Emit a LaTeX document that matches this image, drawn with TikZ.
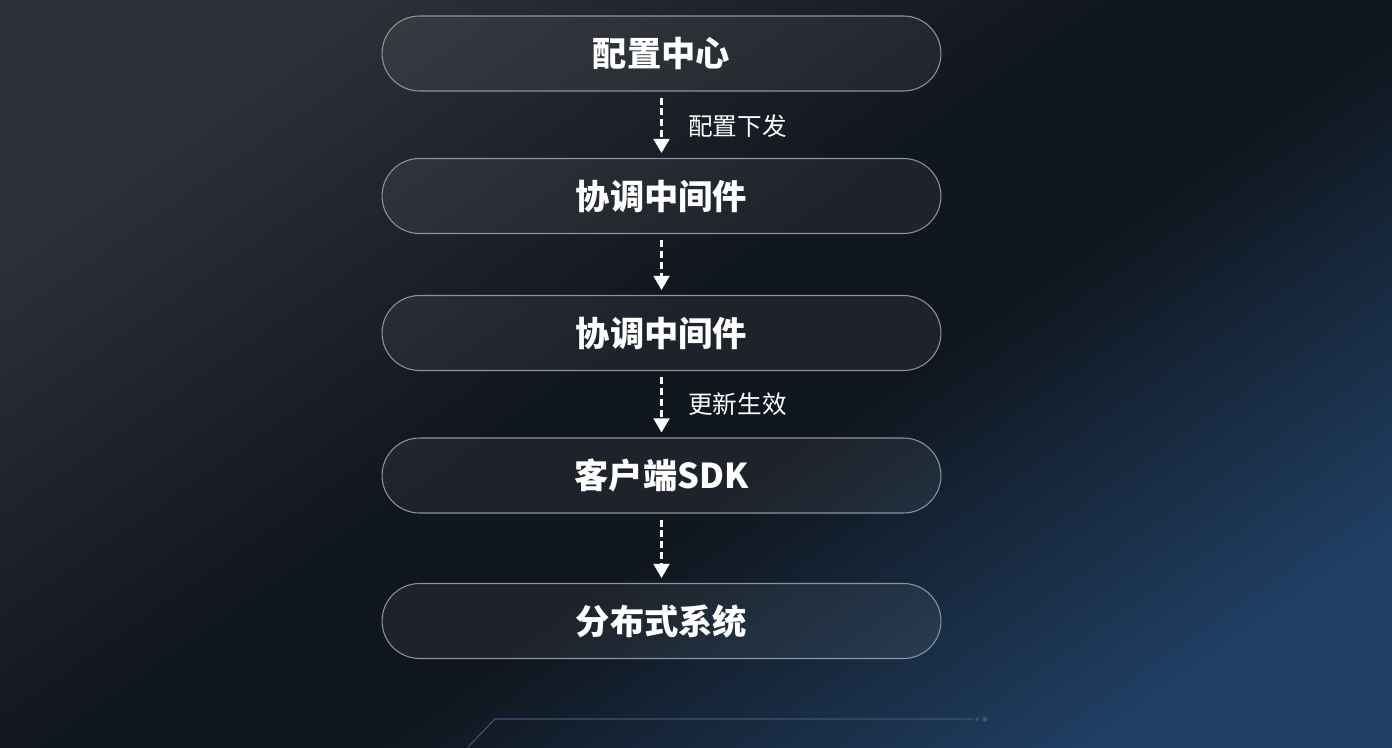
\documentclass[tikz,border=0pt]{standalone}
\usepackage{fontspec}
\newfontfamily\cjk{Noto Sans CJK SC}
\usetikzlibrary{arrows.meta}
\definecolor{bgtop}{HTML}{30343A}
\definecolor{bgmid}{HTML}{10161E}
\definecolor{bgbot}{HTML}{1F3E62}
\definecolor{rim}{HTML}{8E949C}
\definecolor{deco}{HTML}{3B5572}
\pgfdeclarehorizontalshading{backdrop}{100bp}{color(0bp)=(bgtop);
  color(25bp)=(bgtop!90!bgmid); color(47bp)=(bgmid); color(56bp)=(bgmid);
  color(76bp)=(bgbot); color(100bp)=(bgbot)}

\begin{document}
\begin{tikzpicture}[x=0.02cm,y=-0.02cm]
    \tikzset{%
      stage/.style={draw=rim, line width=0.6pt, fill=white, fill opacity=0.06,
        text opacity=1, text=white, rounded corners=0.75cm, minimum
        width=11.18cm, minimum height=1.5cm,
        font=\cjk\bfseries\fontsize{19.5}{19.5}\selectfont},
      flow/.style={white, line width=1.3pt, dash pattern=on 4pt off 2.2pt,
        shorten <=0.12cm, shorten >=0.1cm,
        -{Triangle[width=9pt,length=8pt]}},
      note/.style={anchor=west, text=white, inner sep=0pt,
        font=\cjk\fontsize{14}{14}\selectfont},
    }
    % background
    \useasboundingbox (0,0) rectangle (1392,747);
    \fill[shading=backdrop, shading angle=-55] (0,0) rectangle (1392,747);

    \node[stage] (center) at (661.5,53.5) {配置中心};
    \node[stage] (midA) at (661.5,196) {协调中间件};
    \draw [flow] (center) -- (midA);
    \node[note] (push) at (688,126) {配置下发};

    \node[stage] (midB) at (661.5,333) {协调中间件};
    \draw [flow] (midA) -- (midB);

    \node[stage] (sdk) at (661.5,475.5) {客户端SDK};
    \draw [flow] (midB) -- (sdk);
    \node[note] (apply) at (688,404) {更新生效};

    \node[stage] (dist) at (661.5,621) {分布式系统};
    \draw [flow] (sdk) -- (dist);

    % bottom trim
    \coordinate (T0) at (468,747);
    \coordinate (T1) at (495,719);
    \coordinate (T2) at (973,719);
    \draw [deco, line width=0.6pt] (T0) -- (T1) -- (T2);
    \node[circle, fill=deco, inner sep=0pt, minimum width=2pt] (dotA) at (977,719) {};
    \node[circle, fill=deco, inner sep=0pt, minimum width=3pt] (dotB) at (985,719) {};
  \end{tikzpicture}
\end{document}
